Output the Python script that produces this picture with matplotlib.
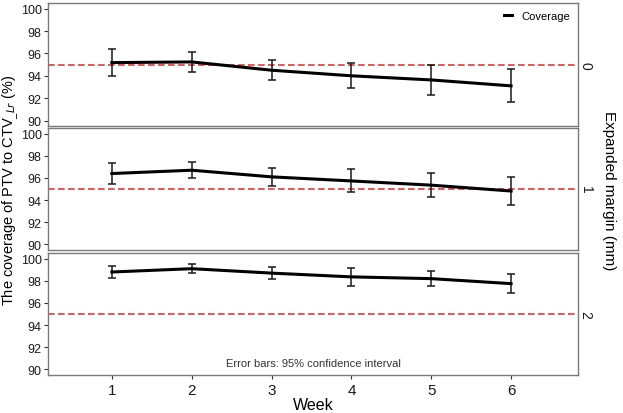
import matplotlib.pyplot as plt

plt.rcParams['font.family'] = ['Liberation Sans', 'DejaVu Sans']

# Datos
semanas = [1, 2, 3, 4, 5, 6]
margenes = ['0', '1', '2']
media = [
    [95.18, 95.24, 94.5, 94.0, 93.63, 93.1],
    [96.4, 96.7, 96.1, 95.73, 95.35, 94.82],
    [98.8, 99.1, 98.7, 98.36, 98.2, 97.75],
]
inferior = [
    [93.97, 94.34, 93.65, 92.95, 92.32, 91.63],
    [95.49, 95.98, 95.25, 94.7, 94.27, 93.57],
    [98.28, 98.74, 98.19, 97.56, 97.56, 96.93],
]
superior = [
    [96.4, 96.14, 95.4, 95.12, 94.94, 94.6],
    [97.31, 97.44, 96.92, 96.77, 96.43, 96.07],
    [99.34, 99.49, 99.22, 99.16, 98.85, 98.58],
]
umbral = 95

fig = plt.figure(figsize=(6.23, 4.14), dpi=100)

# posiciones de los paneles (fracciones de la figura)
izq, der = 0.077, 0.928
filas = [(0.693, 0.990), (0.394, 0.688), (0.092, 0.386)]

gris = '#7a7a7a'
ejes = []
for i, (abajo, arriba) in enumerate(filas):
    ax = fig.add_axes([izq, abajo, der - izq, arriba - abajo])
    ejes.append(ax)
    ax.axhline(umbral, color='#e0393b', linestyle=(0, (4, 2)), linewidth=1.2, zorder=1)
    err_inf = [m - l for m, l in zip(media[i], inferior[i])]
    err_sup = [u - m for m, u in zip(media[i], superior[i])]
    ax.errorbar(semanas, media[i], yerr=[err_inf, err_sup], fmt='none',
                ecolor='#1a1a1a', elinewidth=1.1, capsize=3.2, capthick=1.1, zorder=2)
    ax.plot(semanas, media[i], color='black', linewidth=2.2, label='Coverage', zorder=3)
    ax.set_xlim(0.2, 6.84)
    ax.set_ylim(89.5, 100.5)
    ax.set_yticks([90, 92, 94, 96, 98, 100])
    for s in ax.spines.values():
        s.set_color(gris)
        s.set_linewidth(1.0)
    ax.tick_params(axis='both', colors='#333333', labelcolor='#1a1a1a',
                   length=3, width=0.8, labelsize=9.5, pad=1.5)
    ax.tick_params(axis='y', labelsize=9)
    ax.text(1.014, 0.5, margenes[i], transform=ax.transAxes, rotation=-90,
            ha='center', va='center', fontsize=10, color='#1a1a1a')
    ax.set_xticks(semanas)
    if i < 2:
        ax.tick_params(axis='x', length=0, labelbottom=False)
    else:
        ax.tick_params(axis='x', labelsize=11, pad=3)

ejes[0].legend(loc='upper right', frameon=False, fontsize=8, handlelength=0.7,
               handletextpad=0.9, borderaxespad=0.3)
ejes[2].text(0.5, 0.06, 'Error bars: 95% confidence interval', transform=ejes[2].transAxes,
             ha='center', va='bottom', fontsize=8, color='#333333')
ejes[2].set_xlabel('Week', fontsize=11.5, labelpad=0)

fig.text(0.017, 0.54, r'The coverage of PTV to CTV$_{\_Lr}$ (%)', rotation=90,
         ha='center', va='center', fontsize=10.5)
fig.text(0.977, 0.54, 'Expanded margin (mm)', rotation=-90,
         ha='center', va='center', fontsize=11)

fig.savefig('out.png', dpi=100)
